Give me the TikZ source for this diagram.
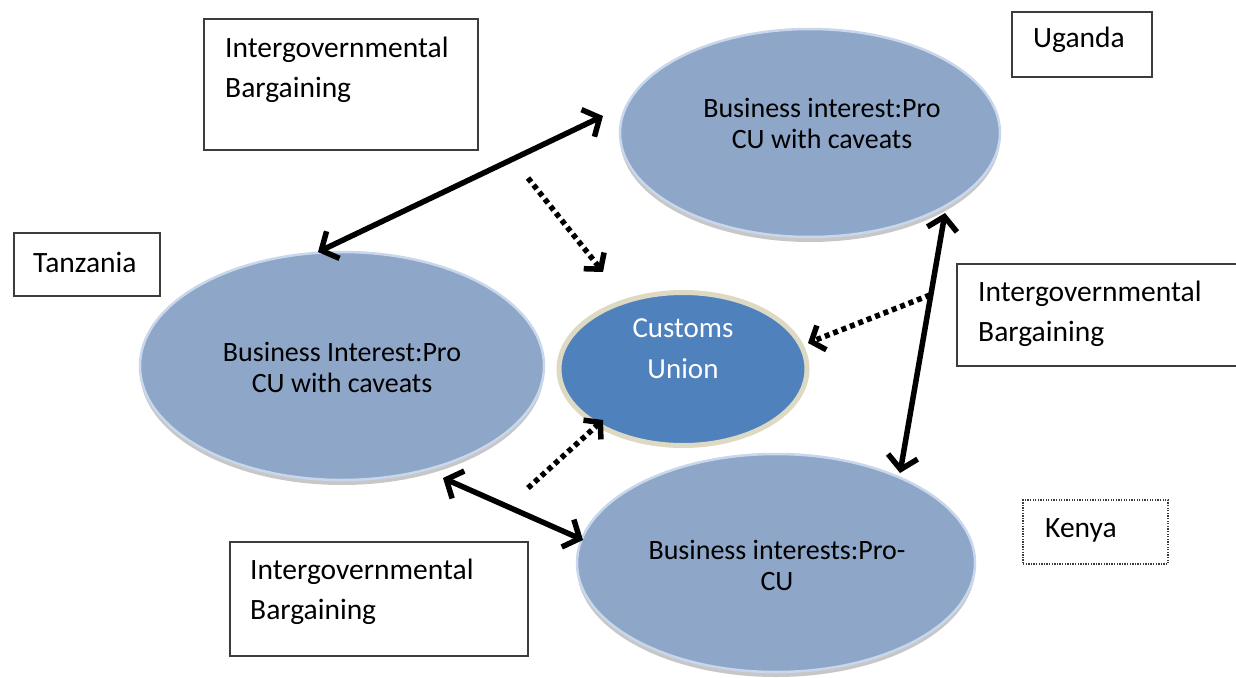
\documentclass[tikz,border=0pt]{standalone}
\usepackage{fontspec}
\setmainfont{Carlito}
\usetikzlibrary{arrows.meta,shadows,shapes.geometric}
\definecolor{bub}{RGB}{142,166,199}
\definecolor{bubrim}{RGB}{200,215,235}
\definecolor{cu}{RGB}{79,129,189}
\definecolor{cuedge}{RGB}{221,217,195}
\definecolor{boxline}{RGB}{60,60,60}
\tikzset{
  bubble/.style={ellipse, fill=bub, draw=bubrim, line width=2.5pt, inner sep=0pt,
    drop shadow={shadow xshift=0pt, shadow yshift=-5pt, opacity=0.22, fill=black}},
  cunion/.style={ellipse, fill=cu, draw=cuedge, line width=5pt, inner sep=0pt},
  lbox/.style={draw=boxline, line width=1.3pt, fill=white, inner sep=0pt},
  dotbox/.style={draw=boxline, line width=1.3pt, dash pattern=on 1.3pt off 1.3pt, fill=white, inner sep=0pt},
  lbl/.style={font=\fontsize{29.5}{40}\selectfont, align=left, inner sep=0pt, anchor=west},
  etxt/.style={font=\fontsize{28}{31}\selectfont, align=center, inner sep=0pt, text=black},
  barb/.tip={Straight Barb[length=13pt,width=30pt]},
  dbl/.style={barb-barb, line width=5.5pt},
  dotarrow/.style={-{Straight Barb[length=11pt,width=26pt]}, line width=5.5pt, dash pattern=on 5pt off 4pt}
}
\begin{document}
\begin{tikzpicture}[x=1pt,y=-1pt]
\useasboundingbox (0,0) rectangle (1236,677);
% boxes
\node[lbox, minimum width=274pt, minimum height=131pt] (b1) at (341,84.5) {};
\node[lbl] (t1) at (225,70) {Intergovernmental\\Bargaining};
\node[lbox, minimum width=146pt, minimum height=63pt] (b2) at (87,264.5) {};
\node[lbl] (t2) at (33,262) {Tanzania};
\node[lbox, minimum width=140pt, minimum height=65pt] (b3) at (1082,44.5) {};
\node[lbl] (t3) at (1033,40) {Uganda};
\node[lbox, minimum width=280pt, minimum height=102pt] (b4) at (1097,315) {};
\node[lbl] (t4) at (978,314) {Intergovernmental\\Bargaining};
\node[lbox, minimum width=298pt, minimum height=114pt] (b5) at (379,599) {};
\node[lbl] (t5) at (250,592) {Intergovernmental\\Bargaining};
\node[dotbox, minimum width=145pt, minimum height=64pt] (b6) at (1095.5,532) {};
\node[lbl] (t6) at (1045,530) {Kenya};
% ellipses
\node[bubble, minimum width=380pt, minimum height=208pt] (ug) at (810,133) {};
\node[etxt] (ugt) at (822,123.5) {Business interest:Pro\\CU with caveats};
\node[bubble, minimum width=404pt, minimum height=228pt] (tz) at (342,366) {};
\node[etxt] (tzt) at (342,367) {Business Interest:Pro\\CU with caveats};
\node[bubble, minimum width=398pt, minimum height=218pt] (ke) at (776,563) {};
\node[etxt] (ket) at (777,565) {Business interests:Pro-\\CU};
\node[cunion, minimum width=248pt, minimum height=153pt] (cu) at (683,369) {};
\node[etxt, text=white, font=\fontsize{29}{41}\selectfont] (cut) at (683,348.5) {Customs\\Union};
% connector end points
\coordinate (ugL) at (603,116);
\coordinate (tzT) at (318,252);
\coordinate (d1s) at (528,178);
\coordinate (cuNW) at (603,272);
\coordinate (ugB) at (945,213);
\coordinate (keT) at (900,473);
\coordinate (d2s) at (930,295);
\coordinate (cuE) at (808,343);
\coordinate (tzB) at (443,478);
\coordinate (keL) at (583,540);
\coordinate (d3s) at (528,488);
\coordinate (cuSW) at (603,420);
% connectors
\draw[dbl] (ugL) -- (tzT);
\draw[dotarrow] (d1s) -- (cuNW);
\draw[dbl] (ugB) -- (keT);
\draw[dotarrow] (d2s) -- (cuE);
\draw[dbl] (tzB) -- (keL);
\draw[dotarrow] (d3s) -- (cuSW);
\end{tikzpicture}
\end{document}
